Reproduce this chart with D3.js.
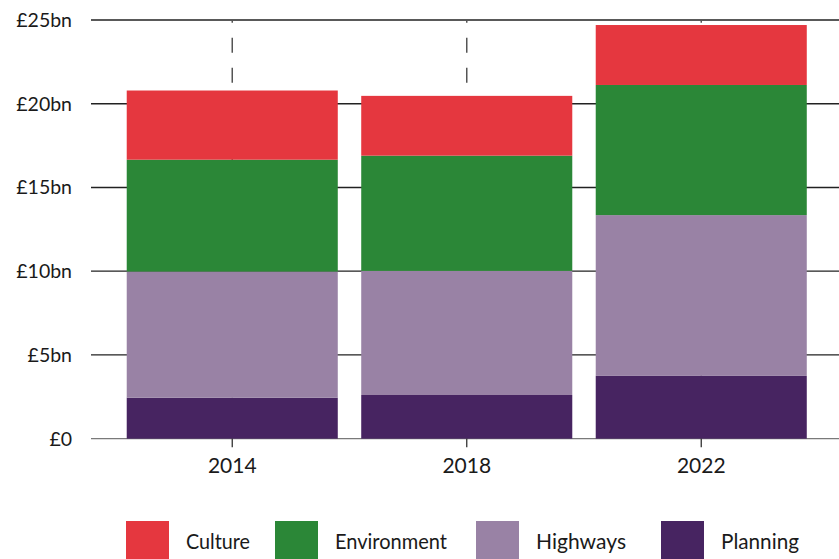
<!DOCTYPE html>
<html>
<head>
<meta charset="utf-8">
<script src="https://cdn.jsdelivr.net/npm/d3@7"></script>
<style>
  html, body { margin: 0; padding: 0; background: #fff; }
  svg { display: block; }
  text { font-family: Lato, "Noto Sans", sans-serif; fill: #1a1a1a; }
</style>
</head>
<body>
<svg id="chart" width="839" height="559"></svg>
<script>
// Spending by service area, £bn
const years = ["2014", "2018", "2022"];
const seriesNames = ["Planning", "Highways", "Environment", "Culture"];
const planning    = [2.45, 2.61, 3.75];
const highways    = [7.53, 7.41, 9.60];
const environment = [6.68, 6.88, 7.77];
const culture     = [4.13, 3.57, 3.58];
const yTicks = [0, 5, 10, 15, 20, 25];
const yTickLabels = ["£0", "£5bn", "£10bn", "£15bn", "£20bn", "£25bn"];
const legendOrder = ["Culture", "Environment", "Highways", "Planning"];
const colors = {
  Culture: "#e5373f",
  Environment: "#2b8737",
  Highways: "#9982a5",
  Planning: "#472461"
};

const rows = years.map((y, i) => ({
  year: y,
  Planning: planning[i],
  Highways: highways[i],
  Environment: environment[i],
  Culture: culture[i]
}));

const svg = d3.select("#chart");

const x = d3.scaleBand()
  .domain(years)
  .range([115, 818.5])
  .paddingInner(0.1)
  .paddingOuter(0.05);

const y = d3.scaleLinear()
  .domain([0, 25])
  .range([438.7, 20]);

const gridLeft = 91, gridRight = 839;

// horizontal gridlines
svg.append("g")
  .selectAll("line")
  .data(yTicks)
  .join("line")
  .attr("x1", gridLeft)
  .attr("x2", gridRight)
  .attr("y1", d => y(d))
  .attr("y2", d => y(d))
  .attr("stroke", d => d === 0 ? "#7a7a7a" : "#222")
  .attr("stroke-width", 1.3);

// y tick labels
svg.append("g")
  .selectAll("text")
  .data(yTicks)
  .join("text")
  .attr("x", 72)
  .attr("y", d => y(d))
  .attr("dy", "0.35em")
  .attr("text-anchor", "end")
  .attr("font-size", 19.5)
  .text((d, i) => yTickLabels[i]);

// dashed vertical guides at each year
svg.append("g")
  .selectAll("line")
  .data(years)
  .join("line")
  .attr("x1", d => x(d) + x.bandwidth() / 2)
  .attr("x2", d => x(d) + x.bandwidth() / 2)
  .attr("y1", y(25))
  .attr("y2", y(0))
  .attr("stroke", "#555")
  .attr("stroke-width", 1.5)
  .attr("stroke-dasharray", "15,15")
  .attr("stroke-dashoffset", 12.3);

// stacked bars
const stack = d3.stack().keys(seriesNames);
const layers = stack(rows);

svg.append("g")
  .selectAll("g")
  .data(layers)
  .join("g")
  .attr("fill", d => colors[d.key])
  .selectAll("rect")
  .data(d => d)
  .join("rect")
  .attr("x", d => x(d.data.year))
  .attr("width", x.bandwidth())
  .attr("y", d => y(d[1]))
  .attr("height", d => y(d[0]) - y(d[1]));

// x axis ticks and labels
const xAxis = svg.append("g");
xAxis.selectAll("line")
  .data(years)
  .join("line")
  .attr("x1", d => x(d) + x.bandwidth() / 2)
  .attr("x2", d => x(d) + x.bandwidth() / 2)
  .attr("y1", y(0))
  .attr("y2", y(0) + 8.5)
  .attr("stroke", "#333")
  .attr("stroke-width", 1.3);
xAxis.selectAll("text")
  .data(years)
  .join("text")
  .attr("x", d => x(d) + x.bandwidth() / 2)
  .attr("y", 473)
  .attr("text-anchor", "middle")
  .attr("font-size", 21)
  .text(d => d);

// legend
const legendX = [126, 275, 476, 661];
const legend = svg.append("g");
const items = legend.selectAll("g")
  .data(legendOrder)
  .join("g")
  .attr("transform", (d, i) => `translate(${legendX[i]},521)`);
items.append("rect")
  .attr("width", 43)
  .attr("height", 40)
  .attr("fill", d => colors[d]);
const textWidths = { Culture: 64, Environment: 112, Highways: 90, Planning: 78 };
items.append("text")
  .attr("x", 60)
  .attr("y", 28)
  .attr("font-size", 22)
  .attr("textLength", d => textWidths[d])
  .attr("lengthAdjust", "spacingAndGlyphs")
  .text(d => d);
</script>
</body>
</html>
